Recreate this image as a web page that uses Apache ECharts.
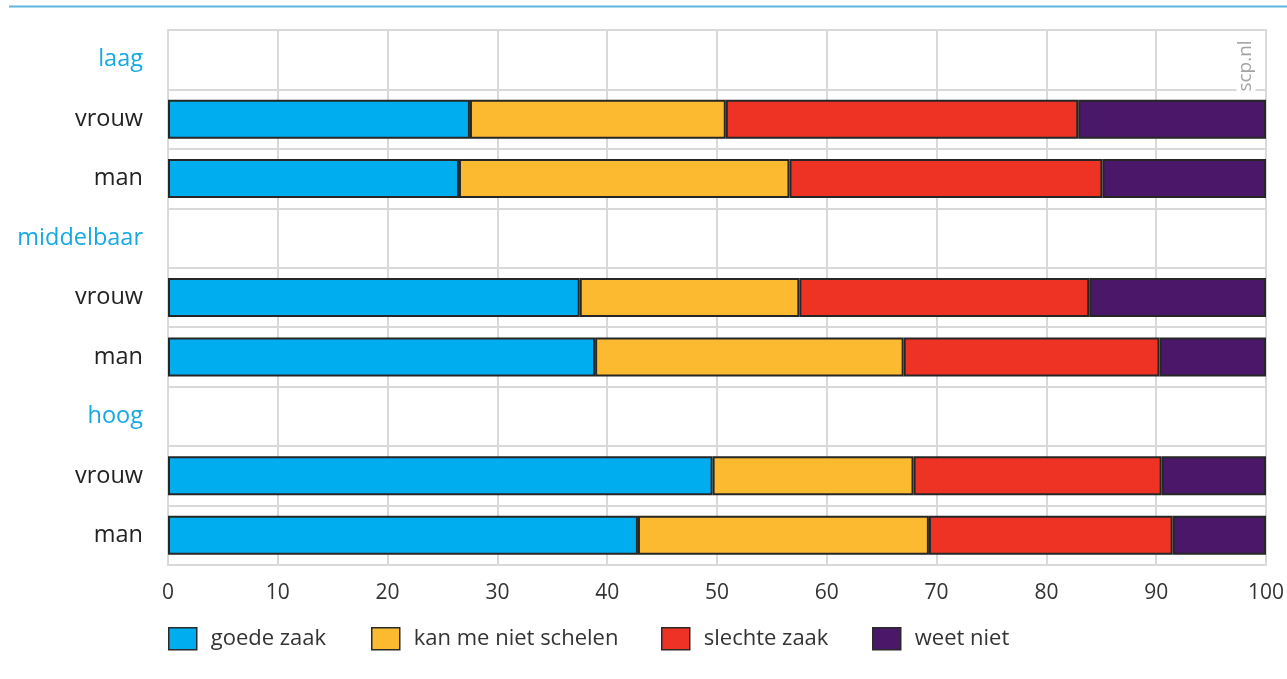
<!DOCTYPE html>
<html>
<head>
<meta charset="utf-8">
<script src="https://cdn.jsdelivr.net/npm/echarts@6/dist/echarts.min.js"></script>
<style>html,body{margin:0;padding:0;background:#fff;}#c{width:1287px;height:679px;}</style>
</head>
<body>
<div id="c"></div>
<script>
// Data
var categories = ['laag', 'vrouw', 'man', 'middelbaar', 'vrouw', 'man', 'hoog', 'vrouw', 'man'];
var headerRows = [0, 3, 6];
var seriesNames = ['goede zaak', 'kan me niet schelen', 'slechte zaak', 'weet niet'];
var goedeZaak = ['-', 27.5, 26.5, '-', 37.5, 38.9, '-', 49.6, 42.8];
var kanMeNietSchelen = ['-', 23.3, 30.1, '-', 20.0, 28.1, '-', 18.3, 26.5];
var slechteZaak = ['-', 32.1, 28.5, '-', 26.4, 23.3, '-', 22.6, 22.2];
var weetNiet = ['-', 17.1, 14.9, '-', 16.1, 9.7, '-', 9.5, 8.5];
var xTicks = { min: 0, max: 100, interval: 10 };

var colors = ['#00adee', '#fbba30', '#ee3224', '#4b1869'];
var values = [goedeZaak, kanMeNietSchelen, slechteZaak, weetNiet];
var FONT = '"Open Sans", "Noto Sans", sans-serif';
var chart = echarts.init(document.getElementById('c'), null, { renderer: 'canvas' });

var legendLeft = [168, 371, 661, 872];
var legends = seriesNames.map(function (n, i) {
  return {
    data: [n], left: legendLeft[i], top: 627, padding: 0, icon: 'rect',
    itemWidth: 28, itemHeight: 22, selectedMode: false,
    itemStyle: { borderColor: '#2a2a2a', borderWidth: 1.5 },
    textStyle: { fontFamily: FONT, fontSize: 22, color: '#333', padding: [0, 0, 0, 9] }
  };
});

var option = {
  animation: false,
  backgroundColor: '#fff',
  color: colors,
  legend: legends,
  grid: { left: 168, right: 21, top: 30, bottom: 114, show: true, borderColor: '#d9d9d9', borderWidth: 2 },
  xAxis: {
    type: 'value', min: xTicks.min, max: xTicks.max, interval: xTicks.interval,
    axisLine: { show: false }, axisTick: { show: false },
    splitLine: { show: true, lineStyle: { color: '#d9d9d9', width: 2 } },
    axisLabel: { fontFamily: FONT, fontSize: 21, color: '#333', margin: 18 }
  },
  yAxis: {
    type: 'category', inverse: true, data: categories,
    axisLine: { show: false }, axisTick: { show: false },
    splitLine: { show: true, interval: 0, lineStyle: { color: '#d9d9d9', width: 2 } },
    axisLabel: {
      fontFamily: FONT, fontSize: 23.5, margin: 25, interval: 0,
      color: function (v, i) { return headerRows.indexOf(i) >= 0 ? '#14a9e4' : '#222'; }
    }
  },
  series: seriesNames.map(function (n, i) {
    return {
      name: n, type: 'bar', stack: 'total', data: values[i], barWidth: 39,
      itemStyle: { color: colors[i], borderColor: '#262626', borderWidth: 2 }
    };
  }),
  graphic: [
    { type: 'line', shape: { x1: 9, y1: 6.5, x2: 1287, y2: 6.5 }, style: { stroke: '#5fb6e0', lineWidth: 2 }, z: 10 },
    {
      type: 'text', x: 1246, y: 66, rotation: Math.PI / 2, z: 10,
      style: {
        text: 'scp.nl', fill: '#a3a3a3', font: '19px "Open Sans", sans-serif',
        align: 'center', verticalAlign: 'middle', backgroundColor: '#fff', padding: [0, 4, 0, 4]
      }
    }
  ]
};
chart.setOption(option);
</script>
</body>
</html>
